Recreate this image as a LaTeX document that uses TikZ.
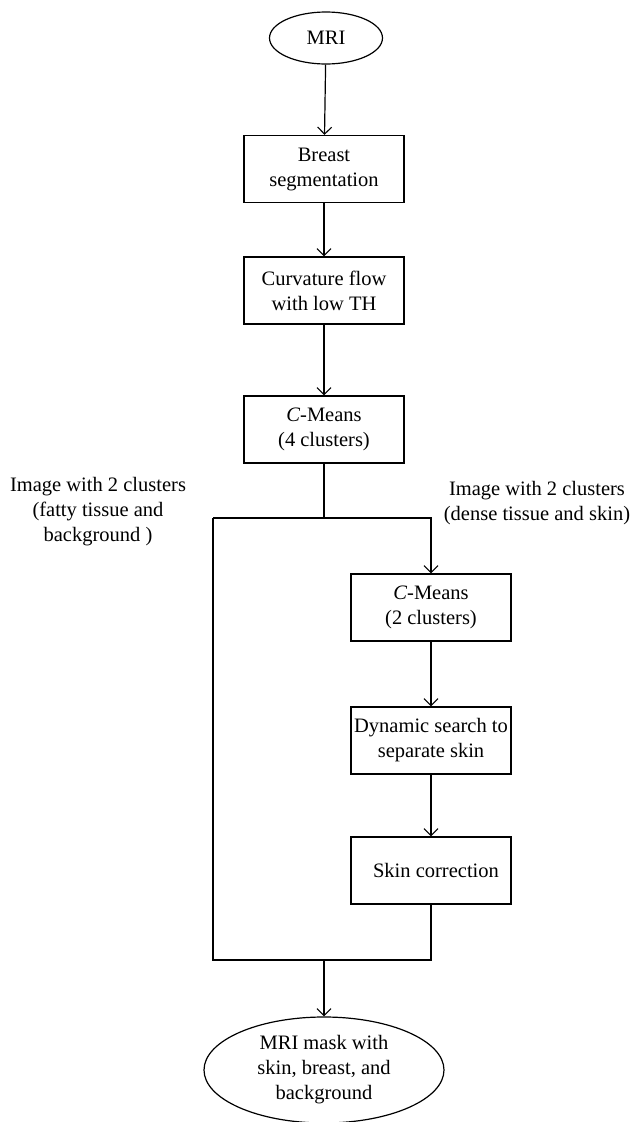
\documentclass[tikz,border=0pt]{standalone}
\usepackage{fontspec}
\setmainfont{Liberation Serif}
\usetikzlibrary{shapes.geometric,arrows.meta}
\begin{document}
\begin{tikzpicture}[x=1pt,y=-1pt,
  every node/.style={font=\fontsize{20.5}{25}\selectfont, align=center, inner sep=0pt},
  stepbox/.style={draw, line width=1.2pt, rectangle, minimum width=160pt, minimum height=67pt},
  oval/.style={draw, line width=1.2pt, ellipse},
  conn/.style={line width=1.2pt},
  arr/.style={conn, -{Straight Barb[length=7pt,width=14pt,line width=1.1pt]}}]
\useasboundingbox (0,0) rectangle (637,1122);
\node[oval, minimum width=113pt, minimum height=52pt] (mri) at (326,38) {MRI};
\node[stepbox] (seg) at (324,169) {Breast\\segmentation};
\node[stepbox] (curv) at (324,290.5) {Curvature flow\\with low TH};
\node[stepbox] (cm4) at (324,429.5) {\textit{C}-Means\\(4 clusters)};
\node[stepbox] (cm2) at (431,607.5) {\textit{C}-Means\\(2 clusters)};
\node[stepbox] (dyn) at (431,740.5) {Dynamic search to\\separate skin};
\node[stepbox] (skin) at (431,870.5) {\hspace*{10pt}Skin correction};
\node[oval, minimum width=240pt, minimum height=106pt] (mask) at (324,1070) {MRI mask with\\skin, breast, and\\background};
\node (lblL) at (98,512) {Image with 2 clusters\\(fatty tissue and\\background )};
\node (lblR) at (537,503) {Image with 2 clusters\\(dense tissue and skin)};
\coordinate (sL) at (213,518);
\coordinate (sC) at (cm4.south |- sL);
\coordinate (sR) at (cm2.north |- sL);
\coordinate (mL) at (213,960);
\coordinate (mR) at (skin.south |- mL);
\coordinate (mC) at (mask.north |- mL);
\draw[arr] (mri) -- (seg);
\draw[arr] (seg) -- (curv);
\draw[arr] (curv) -- (cm4);
\draw[conn] (cm4.south) -- (sC);
\draw[arr] (sL) -- (sR) -- (cm2.north);
\draw[arr] (cm2) -- (dyn);
\draw[arr] (dyn) -- (skin);
\draw[conn] (sL) -- (mL) -- (mR) -- (skin.south);
\draw[arr] (mC) -- (mask.north);
\end{tikzpicture}
\end{document}
